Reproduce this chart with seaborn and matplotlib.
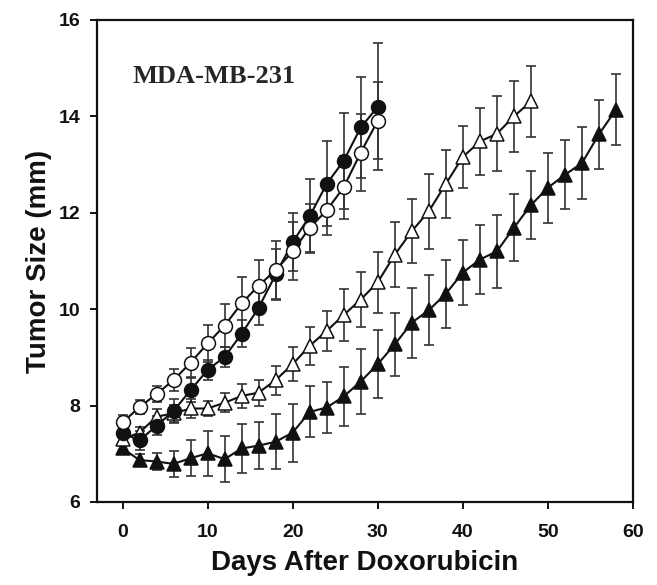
import numpy as np
import pandas as pd
import matplotlib
matplotlib.use("Agg")
import matplotlib.pyplot as plt
import seaborn as sns

# --------------------------------------------------------------------------
# data (tumor size in mm, +/- error)
# --------------------------------------------------------------------------
days_circle = list(range(0, 31, 2))
filled_circle = [7.43, 7.28, 7.58, 7.89, 8.32, 8.74, 9.01, 9.49, 10.03, 10.72,
                 11.39, 11.93, 12.60, 13.08, 13.77, 14.20]
filled_circle_err = [0.2, 0.2, 0.2, 0.25, 0.25, 0.2, 0.2, 0.28, 0.36, 0.53,
                     0.6, 0.77, 0.88, 1.0, 1.05, 1.32]
open_circle = [7.65, 7.97, 8.24, 8.53, 8.89, 9.29, 9.66, 10.12, 10.49, 10.81,
               11.20, 11.69, 12.05, 12.53, 13.25, 13.91]
open_circle_err = [0.15, 0.15, 0.17, 0.22, 0.3, 0.38, 0.45, 0.55, 0.53, 0.6,
                   0.6, 0.5, 0.52, 0.65, 0.8, 0.8]

days_open_tri = list(range(0, 49, 2))
open_tri = [7.3, 7.44, 7.77, 7.84, 7.94, 7.94, 8.06, 8.2, 8.27, 8.53, 8.86,
            9.24, 9.55, 9.88, 10.2, 10.56, 11.13, 11.62, 12.03, 12.6, 13.16,
            13.48, 13.64, 14.0, 14.31]
open_tri_err = [0.1, 0.12, 0.15, 0.17, 0.2, 0.15, 0.2, 0.25, 0.27, 0.3, 0.35,
                0.4, 0.42, 0.53, 0.57, 0.63, 0.67, 0.67, 0.78, 0.7, 0.65,
                0.7, 0.78, 0.73, 0.74]

days_filled_tri = list(range(0, 59, 2))
filled_tri = [7.11, 6.87, 6.84, 6.79, 6.91, 7.01, 6.89, 7.11, 7.17, 7.25,
              7.44, 7.87, 7.96, 8.19, 8.5, 8.86, 9.27, 9.72, 9.98, 10.32,
              10.76, 11.03, 11.2, 11.69, 12.16, 12.52, 12.79, 13.03, 13.63, 14.14]
filled_tri_err = [0.1, 0.12, 0.18, 0.27, 0.37, 0.47, 0.48, 0.5, 0.48, 0.57,
                  0.6, 0.53, 0.52, 0.62, 0.67, 0.7, 0.66, 0.73, 0.73, 0.7,
                  0.68, 0.72, 0.76, 0.69, 0.71, 0.73, 0.72, 0.75, 0.72, 0.73]

x_ticks = [0, 10, 20, 30, 40, 50, 60]
y_ticks = [6, 8, 10, 12, 14, 16]

# (days, values, errors, marker, face colour)
series = [
    (days_filled_tri, filled_tri, filled_tri_err, "^", "#111111"),
    (days_open_tri, open_tri, open_tri_err, "^", "white"),
    (days_circle, filled_circle, filled_circle_err, "o", "#111111"),
    (days_circle, open_circle, open_circle_err, "o", "white"),
]

# --------------------------------------------------------------------------
# plot
# --------------------------------------------------------------------------
sns.set_style("white")
plt.rcParams["font.family"] = ["Liberation Sans", "DejaVu Sans"]

fig = plt.figure(figsize=(6.57, 5.85), dpi=100)
ax = fig.add_axes([97 / 657, 1 - 502 / 585, (633 - 97) / 657, (502 - 20) / 585])

for i, (d, y, e, mk, fc) in enumerate(series):
    ax.errorbar(d, y, yerr=e, fmt="none", ecolor="#333333", elinewidth=1.2,
                capsize=3.5, capthick=1.2, zorder=2 + i * 0.1)
    df = pd.DataFrame({"day": d, "size": y})
    sns.lineplot(data=df, x="day", y="size", ax=ax, color="#111111",
                 linewidth=1.5, marker=mk, markersize=10 if mk == "o" else 10.5,
                 markerfacecolor=fc, markeredgecolor="#111111",
                 markeredgewidth=1.1, zorder=3 + i * 0.1)

ax.set_xlim(-3, 60)
ax.set_ylim(6, 16)
ax.set_xticks(x_ticks)
ax.set_yticks(y_ticks)
for sp in ax.spines.values():
    sp.set_linewidth(1.6)
    sp.set_color("#111111")
ax.tick_params(axis="both", which="major", direction="out", length=5,
               width=1.4, color="#111111", labelsize=14, labelcolor="#111111",
               bottom=True, left=True)
ax.tick_params(axis="x", pad=10.5)
ax.tick_params(axis="y", pad=7)
for lab in ax.get_xticklabels() + ax.get_yticklabels():
    lab.set_fontweight("bold")

ax.set_xlabel("Days After Doxorubicin", fontsize=20, fontweight="bold",
              labelpad=7, color="#111111")
ax.set_ylabel("Tumor Size (mm)", fontsize=20, fontweight="bold", labelpad=5,
              color="#111111")

ax.text(1.2, 14.82, "MDA-MB-231", fontsize=19, fontweight="bold",
        family=["Liberation Serif", "DejaVu Serif"], va="center", ha="left")

fig.savefig("out.png", dpi=100)
